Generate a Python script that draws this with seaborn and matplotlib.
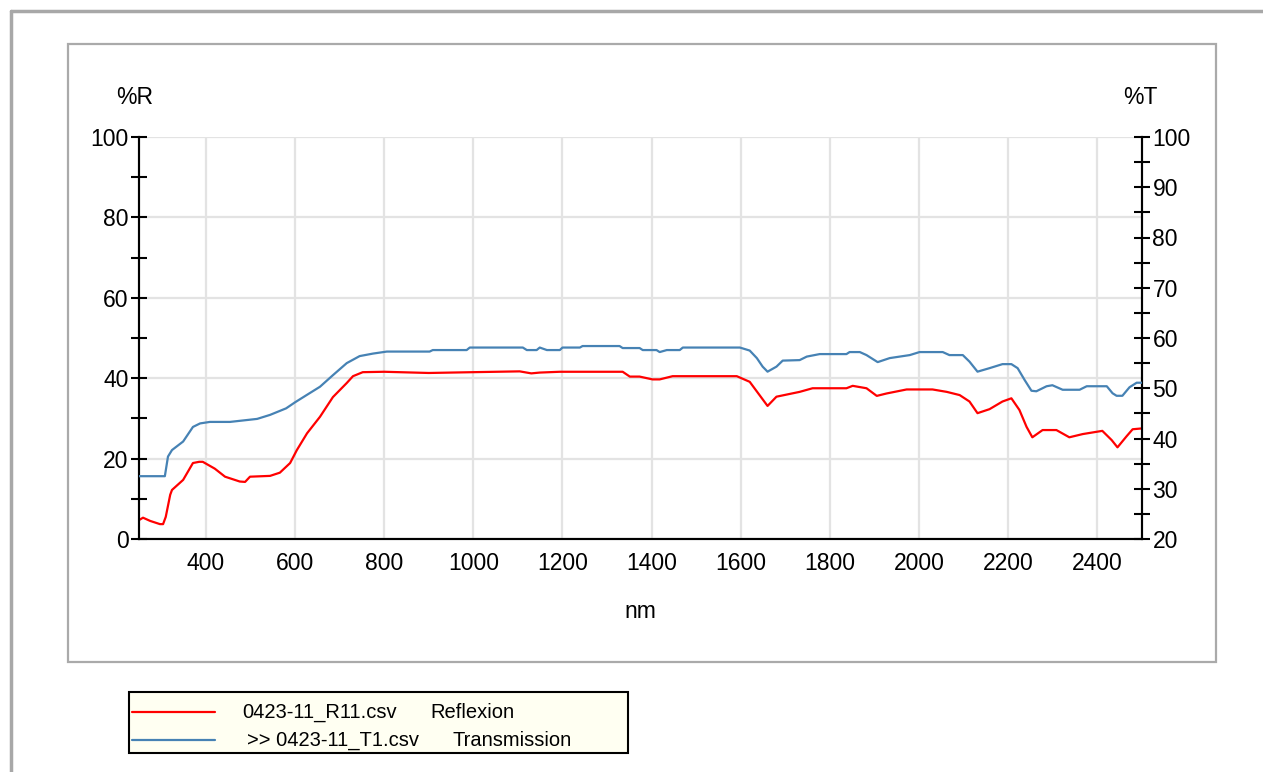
import matplotlib
matplotlib.use("Agg")
import matplotlib.pyplot as plt
from matplotlib.patches import Rectangle
from matplotlib.lines import Line2D
import seaborn as sns
import numpy as np

# ---------------- data ----------------
nm_R = [250, 259, 275, 297, 304, 310, 320, 324, 349, 371, 385, 393, 420, 443, 476, 488,
        499, 544, 566, 589, 604, 627, 656, 685, 716, 730, 752, 800, 900, 1000, 1104, 1130,
        1149, 1194, 1335, 1351, 1373, 1402, 1418, 1447, 1591, 1620, 1642, 1660, 1680, 1732,
        1761, 1837, 1851, 1882, 1905, 1927, 1972, 2030, 2062, 2091, 2113, 2131, 2158, 2187,
        2207, 2225, 2241, 2254, 2277, 2308, 2337, 2367, 2411, 2432, 2445, 2465, 2479, 2499]
R_vals = [4.7, 5.3, 4.5, 3.7, 3.7, 5.5, 11.0, 12.2, 14.7, 18.9, 19.2, 19.2, 17.5, 15.5, 14.3, 14.2,
          15.5, 15.7, 16.5, 18.9, 22.1, 26.3, 30.4, 35.3, 38.8, 40.5, 41.5, 41.6, 41.3, 41.5, 41.7, 41.2,
          41.4, 41.6, 41.6, 40.4, 40.4, 39.7, 39.7, 40.5, 40.5, 39.1, 35.8, 33.1, 35.4, 36.6,
          37.5, 37.5, 38.1, 37.5, 35.6, 36.2, 37.2, 37.2, 36.6, 35.8, 34.2, 31.3, 32.3, 34.2,
          35.0, 32.1, 27.9, 25.3, 27.1, 27.1, 25.3, 26.1, 26.9, 24.6, 22.8, 25.5, 27.3, 27.5]

nm_T = [250, 308, 315, 324, 349, 371, 387, 409, 454, 515, 544, 580, 600, 627, 656, 685,
        716, 745, 775, 806, 902, 909, 985, 992, 1111, 1120, 1142, 1149, 1165, 1194, 1200,
        1239, 1245, 1328, 1335, 1373, 1380, 1411, 1418, 1434, 1463, 1470, 1598, 1620, 1636,
        1649, 1660, 1680, 1694, 1732, 1748, 1777, 1837, 1844, 1867, 1882, 1907, 1934, 1979,
        2001, 2053, 2068, 2098, 2113, 2131, 2158, 2187, 2207, 2221, 2237, 2252, 2263, 2286,
        2299, 2322, 2360, 2376, 2421, 2434, 2443, 2456, 2472, 2488, 2500]
T_vals = [32.5, 32.5, 36.4, 37.7, 39.4, 42.3, 43.0, 43.3, 43.3, 43.9, 44.7, 46.0, 47.2, 48.7, 50.3, 52.6,
          55.0, 56.4, 56.9, 57.3, 57.3, 57.6, 57.6, 58.1, 58.1, 57.6, 57.6, 58.1, 57.6, 57.6, 58.1,
          58.1, 58.4, 58.4, 58.0, 58.0, 57.6, 57.6, 57.2, 57.6, 57.6, 58.1, 58.1, 57.5, 56.0,
          54.3, 53.3, 54.3, 55.5, 55.6, 56.3, 56.8, 56.8, 57.2, 57.2, 56.6, 55.2, 56.0, 56.6,
          57.2, 57.2, 56.6, 56.6, 55.3, 53.3, 54.0, 54.8, 54.8, 54.0, 51.6, 49.5, 49.4, 50.4,
          50.6, 49.7, 49.7, 50.4, 50.4, 49.0, 48.5, 48.5, 50.2, 51.1, 51.1]

x_major = [400, 600, 800, 1000, 1200, 1400, 1600, 1800, 2000, 2200, 2400]
x_minor = list(range(300, 2501, 100))
r_major = [0, 20, 40, 60, 80, 100]
r_minor = [10, 30, 50, 70, 90]
t_major = [20, 30, 40, 50, 60, 70, 80, 90, 100]
t_minor = [25, 35, 45, 55, 65, 75, 85, 95]

legend_files = ["0423-11_R11.csv", ">> 0423-11_T1.csv"]
legend_kinds = ["Reflexion", "Transmission"]

RED = "#ff0000"
BLUE = "#4682b4"

# ---------------- style ----------------
sns.set_style("white")
plt.rcParams["font.family"] = ["Liberation Sans", "DejaVu Sans"]
plt.rcParams["text.color"] = "black"
plt.rcParams["xtick.color"] = "black"
plt.rcParams["ytick.color"] = "black"
plt.rcParams["axes.labelcolor"] = "black"

W, H = 1263, 772
fig = plt.figure(figsize=(W / 100, H / 100), dpi=100)
fig.patch.set_facecolor("white")

def fx(px):
    return px / W

def fy(py):
    return 1 - py / H

ax = fig.add_axes([fx(139), fy(539), fx(1142) - fx(139), fy(137) - fy(539)])
ax2 = ax.twinx()

sns.lineplot(x=nm_R, y=R_vals, ax=ax, color=RED, lw=1.6, estimator=None, sort=False, zorder=3)
sns.lineplot(x=nm_T, y=T_vals, ax=ax2, color=BLUE, lw=1.6, estimator=None, sort=False, zorder=3)

ax.set_xlim(250, 2500)
ax.set_ylim(0, 100)
ax2.set_ylim(20, 100)

ax.set_xticks(x_major)
ax.set_xticks(x_minor, minor=True)
ax.set_yticks(r_major)
ax.set_yticks(r_minor, minor=True)
ax2.set_yticks(t_major)
ax2.set_yticks(t_minor, minor=True)

ax.set_axisbelow(True)
ax.grid(True, which="major", axis="both", color="#e3e3e3", lw=1.6)
ax2.grid(False)

for a in (ax, ax2):
    a.spines["top"].set_visible(False)
    for s in ("left", "right", "bottom"):
        a.spines[s].set_color("black")
        a.spines[s].set_linewidth(1.5)

fs = 16.5
ax.tick_params(axis="both", which="both", direction="inout", color="black",
               labelcolor="black", width=1.5)
ax.tick_params(axis="both", which="major", length=12, labelsize=fs)
ax.tick_params(axis="both", which="minor", length=11)
ax.tick_params(axis="y", which="major", pad=1.5)
ax.tick_params(axis="x", which="major", pad=3)
ax2.tick_params(axis="y", which="both", direction="inout", color="black",
                labelcolor="black", width=1.5)
ax2.tick_params(axis="y", which="major", length=12, labelsize=fs, pad=1.5)
ax2.tick_params(axis="y", which="minor", length=11)

ax.set_xlabel("nm", fontsize=fs, labelpad=18, color="black")
ax.set_ylabel("")
ax2.set_ylabel("")

fig.text(fx(135), fy(97), "%R", ha="center", va="center", fontsize=fs, color="black")
fig.text(fx(1140), fy(97), "%T", ha="center", va="center", fontsize=fs, color="black")

# inner panel frame
fig.patches.append(Rectangle((fx(68), fy(662)), fx(1216) - fx(68), fy(44) - fy(662),
                             transform=fig.transFigure, fill=False,
                             edgecolor="#aaaaaa", lw=1.6, zorder=0))
# outer frame (left and top)
fig.lines.append(Line2D([fx(11), fx(11)], [0, fy(11)], transform=fig.transFigure,
                        color="#a8a8a8", lw=2.5))
fig.lines.append(Line2D([fx(11), 1], [fy(11), fy(11)], transform=fig.transFigure,
                        color="#a8a8a8", lw=2.5))

# legend box
fig.patches.append(Rectangle((fx(129), fy(753)), fx(628) - fx(129), fy(692) - fy(753),
                             transform=fig.transFigure, facecolor="#fffff2",
                             edgecolor="black", lw=1.5, zorder=1))
leg_y = [712, 740]
leg_colors = [RED, BLUE]
file_x = [242, 247]
kind_x = [430, 453]
lfs = 14.5
for i in range(2):
    fig.lines.append(Line2D([fx(132), fx(215)], [fy(leg_y[i])] * 2, transform=fig.transFigure,
                            color=leg_colors[i], lw=1.6, zorder=2))
    fig.text(fx(file_x[i]), fy(leg_y[i]), legend_files[i], ha="left", va="center",
             fontsize=lfs, zorder=3, color="black")
    fig.text(fx(kind_x[i]), fy(leg_y[i]), legend_kinds[i], ha="left", va="center",
             fontsize=lfs, zorder=3, color="black")

fig.savefig("out.png", dpi=100)
